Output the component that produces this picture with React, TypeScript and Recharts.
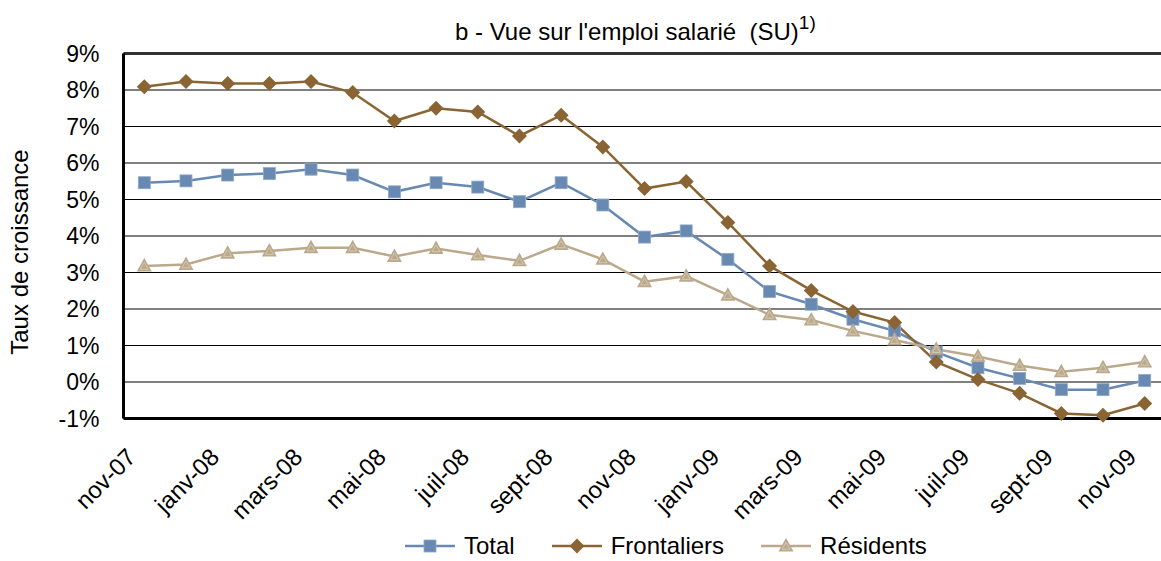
import React from 'react';
import { LineChart, Line, XAxis, YAxis, CartesianGrid, ReferenceLine } from 'recharts';

const months = ['nov-07', 'déc-07', 'janv-08', 'févr-08', 'mars-08', 'avr-08', 'mai-08', 'juin-08', 'juil-08', 'août-08', 'sept-08', 'oct-08', 'nov-08', 'déc-08', 'janv-09', 'févr-09', 'mars-09', 'avr-09', 'mai-09', 'juin-09', 'juil-09', 'août-09', 'sept-09', 'oct-09', 'nov-09'];
const total = [5.46, 5.51, 5.67, 5.71, 5.83, 5.67, 5.21, 5.46, 5.34, 4.94, 5.46, 4.85, 3.97, 4.14, 3.36, 2.48, 2.13, 1.72, 1.40, 0.82, 0.39, 0.10, -0.21, -0.21, 0.04];
const frontaliers = [8.09, 8.23, 8.18, 8.18, 8.23, 7.93, 7.15, 7.50, 7.40, 6.74, 7.31, 6.44, 5.30, 5.49, 4.37, 3.18, 2.51, 1.93, 1.63, 0.55, 0.07, -0.31, -0.86, -0.91, -0.59];
const residents = [3.18, 3.22, 3.53, 3.59, 3.68, 3.68, 3.44, 3.66, 3.48, 3.32, 3.77, 3.36, 2.75, 2.90, 2.38, 1.84, 1.70, 1.40, 1.15, 0.90, 0.70, 0.45, 0.28, 0.39, 0.55];
const yTicks = [-1, 0, 1, 2, 3, 4, 5, 6, 7, 8, 9];

const title = "b - Vue sur l'emploi salarié  (SU)";
const titleSup = '1)';
const yLabel = 'Taux de croissance';

const FONT = 'Liberation Sans, Arial, Helvetica, sans-serif';
const BLUE = '#6889B1';
const BROWN = '#8A6533';
const TAN = '#BBA98C';

const data = months.map((m, i) => ({ month: m, total: total[i], frontaliers: frontaliers[i], residents: residents[i] }));

const Square = ({ cx, cy, color }: any) => (
  <rect x={cx - 6} y={cy - 6} width={12} height={12} fill={color} stroke="#8FA9C8" strokeWidth={0.8} />
);
const Diamond = ({ cx, cy, color }: any) => (
  <polygon points={`${cx},${cy - 7.5} ${cx + 7.5},${cy} ${cx},${cy + 7.5} ${cx - 7.5},${cy}`} fill={color} />
);
const Triangle = ({ cx, cy, color }: any) => (
  <g>
    <polygon points={`${cx},${cy - 8} ${cx + 7.5},${cy + 5.5} ${cx - 7.5},${cy + 5.5}`} fill={color} />
    <polygon points={`${cx},${cy - 3.5} ${cx + 4},${cy + 3.3} ${cx - 4},${cy + 3.3}`} fill="none" stroke="#D4C7B2" strokeWidth={1} />
  </g>
);

const series = [
  { key: 'total', name: 'Total', color: BLUE, Marker: Square },
  { key: 'frontaliers', name: 'Frontaliers', color: BROWN, Marker: Diamond },
  { key: 'residents', name: 'Résidents', color: TAN, Marker: Triangle },
];

const XTick = ({ x, y, payload }: any) => (
  <text
    x={x - 7}
    y={y + 40}
    transform={`rotate(-45 ${x - 7} ${y + 40})`}
    textAnchor="end"
    fontFamily={FONT}
    fontSize={24}
    fill="#000"
  >
    {payload.value}
  </text>
);

export default function App() {
  return (
    <div style={{ position: 'fixed', left: 0, top: 0, width: 1161, height: 561, overflow: 'hidden', background: '#fff' }}>
      <div style={{ position: 'absolute', left: 0, top: 0 }}>
        <LineChart width={1170} height={561} data={data} margin={{ top: 53.5, right: 4.5, left: 0, bottom: 0 }}>
          <CartesianGrid vertical={false} stroke="#000" strokeWidth={1} />
          <XAxis
            dataKey="month"
            interval={1}
            height={142.5}
            padding={{ left: 20.8, right: 20.8 }}
            tickLine={false}
            tickSize={0}
            tickMargin={0}
            axisLine={{ stroke: '#000', strokeWidth: 3 }}
            tick={<XTick />}
          />
          <YAxis
            width={123.5}
            domain={[-1, 9]}
            ticks={yTicks}
            tickFormatter={(v: number) => `${v}%`}
            tickLine={false}
            tickSize={0}
            tickMargin={24}
            axisLine={{ stroke: '#000', strokeWidth: 3 }}
            tick={{ fill: '#000', fontSize: 23, fontFamily: FONT }}
            interval={0}
          />
          <ReferenceLine y={9} stroke="#333" strokeWidth={3} />
          {series.map((s) => (
            <Line
              key={s.key}
              dataKey={s.key}
              name={s.name}
              stroke={s.color}
              strokeWidth={2.5}
              isAnimationActive={false}
              dot={(p: any) => <s.Marker key={`${s.key}-${p.index}`} cx={p.cx} cy={p.cy} color={s.color} />}
              activeDot={false}
            />
          ))}
        </LineChart>
      </div>
      <div style={{ position: 'absolute', left: 455, top: 14, fontFamily: FONT, fontSize: 24, whiteSpace: 'pre', color: '#000' }}>
        {title}
        <sup style={{ fontSize: 19, position: 'relative', top: -2 }}>{titleSup}</sup>
      </div>
      <div
        style={{
          position: 'absolute',
          left: 20,
          top: 252,
          transform: 'translate(-50%, -50%) rotate(-90deg)',
          fontFamily: FONT,
          fontSize: 24,
          whiteSpace: 'nowrap',
          color: '#000',
        }}
      >
        {yLabel}
      </div>
      <div style={{ position: 'absolute', left: 405, top: 532, display: 'flex', alignItems: 'center', gap: 37, fontFamily: FONT, fontSize: 24, color: '#000' }}>
        {series.map((s) => (
          <div key={s.key} style={{ display: 'flex', alignItems: 'center', gap: 9 }}>
            <svg width={50} height={26}>
              <line x1={0} y1={13} x2={50} y2={13} stroke={s.color} strokeWidth={2.5} />
              <s.Marker cx={25} cy={13} color={s.color} />
            </svg>
            <span>{s.name}</span>
          </div>
        ))}
      </div>
    </div>
  );
}
